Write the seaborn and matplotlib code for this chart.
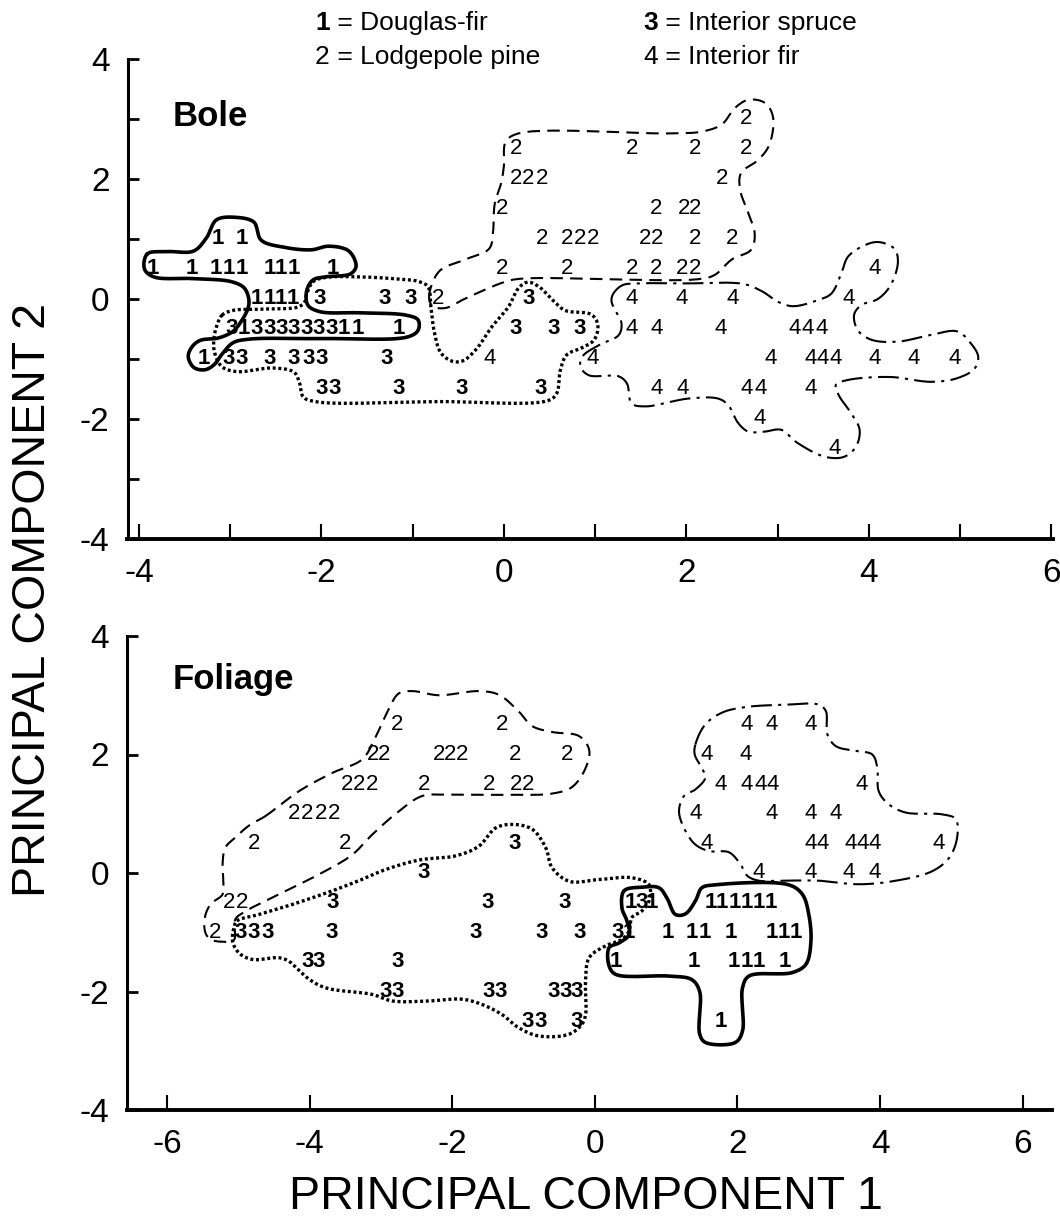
import numpy as np
import matplotlib
matplotlib.use("Agg")
import matplotlib.pyplot as plt
import seaborn as sns

sns.set_style("ticks")
plt.rcParams["font.family"] = ["Liberation Sans", "DejaVu Sans"]
plt.rcParams.update({"text.color": "black", "axes.edgecolor": "black",
                     "axes.labelcolor": "black", "xtick.color": "black",
                     "ytick.color": "black"})

# ---------------------------------------------------------------- Bole scores
BOLE_DF_X = [-3.85, -3.42, -3.16, -3.02, -2.87, -2.57, -2.44, -2.30, -1.87,
             -3.14, -2.87,
             -2.71, -2.57, -2.44, -2.31,
             -2.85, -1.75, -1.60, -1.15,
             -3.29]
BOLE_DF_Y = [0.5, 0.5, 0.5, 0.5, 0.5, 0.5, 0.5, 0.5, 0.5,
             1.0, 1.0,
             0.0, 0.0, 0.0, 0.0,
             -0.5, -0.5, -0.5, -0.5,
             -1.0]

BOLE_LP_X = [2.66,
             0.13, 1.40, 2.10, 2.66,
             0.13, 0.27, 0.42, 2.39,
             -0.02, 1.67, 1.97, 2.10,
             0.42, 0.69, 0.84, 0.98, 1.55, 1.68, 2.10, 2.50,
             -0.02, 0.69, 1.40, 1.67, 1.95, 2.10,
             -0.72]
BOLE_LP_Y = [3.0,
             2.5, 2.5, 2.5, 2.5,
             2.0, 2.0, 2.0, 2.0,
             1.5, 1.5, 1.5, 1.5,
             1.0, 1.0, 1.0, 1.0, 1.0, 1.0, 1.0, 1.0,
             0.5, 0.5, 0.5, 0.5, 0.5, 0.5,
             0.0]

BOLE_IS_X = [-2.02, -1.31, -1.02, 0.27,
             -2.98, -2.71, -2.57, -2.44, -2.30, -2.16, -2.03, -1.89, 0.13, 0.55, 0.83,
             -3.02, -2.87, -2.57, -2.30, -2.14, -2.00, -1.28,
             -2.00, -1.86, -1.15, -0.46, 0.40]
BOLE_IS_Y = [0.0, 0.0, 0.0, 0.0,
             -0.5, -0.5, -0.5, -0.5, -0.5, -0.5, -0.5, -0.5, -0.5, -0.5, -0.5,
             -1.0, -1.0, -1.0, -1.0, -1.0, -1.0, -1.0,
             -1.5, -1.5, -1.5, -1.5, -1.5]

BOLE_IF_X = [4.06,
             1.40, 1.95, 2.51, 3.78,
             1.40, 1.67, 2.38, 3.19, 3.33, 3.48,
             -0.15, 0.97, 2.93, 3.36, 3.50, 3.64, 4.06, 4.49, 4.94,
             1.67, 1.96, 2.66, 2.81, 3.36,
             2.80,
             3.63]
BOLE_IF_Y = [0.5,
             0.0, 0.0, 0.0, 0.0,
             -0.5, -0.5, -0.5, -0.5, -0.5, -0.5,
             -1.0, -1.0, -1.0, -1.0, -1.0, -1.0, -1.0, -1.0, -1.0,
             -1.5, -1.5, -1.5, -1.5, -1.5,
             -2.0,
             -2.5]

# ------------------------------------------------------------- Foliage scores
FOL_DF_X = [0.50, 0.80, 1.63, 1.78, 1.96, 2.13, 2.30, 2.47,
            0.48, 1.02, 1.36, 1.54, 1.91, 2.48, 2.65, 2.82,
            0.29, 1.39, 1.95, 2.13, 2.30, 2.66,
            1.77]
FOL_DF_Y = [-0.5, -0.5, -0.5, -0.5, -0.5, -0.5, -0.5, -0.5,
            -1.0, -1.0, -1.0, -1.0, -1.0, -1.0, -1.0, -1.0,
            -1.5, -1.5, -1.5, -1.5, -1.5, -1.5,
            -2.5]

FOL_LP_X = [-2.78, -1.30,
            -3.11, -2.95, -2.19, -2.03, -1.86, -1.12, -0.39,
            -3.48, -3.31, -3.13, -2.40, -1.49, -1.11, -0.94,
            -4.22, -4.03, -3.84, -3.66,
            -4.78, -3.50,
            -5.13, -4.94,
            -5.33]
FOL_LP_Y = [2.5, 2.5,
            2.0, 2.0, 2.0, 2.0, 2.0, 2.0, 2.0,
            1.5, 1.5, 1.5, 1.5, 1.5, 1.5, 1.5,
            1.0, 1.0, 1.0, 1.0,
            0.5, 0.5,
            -0.5, -0.5,
            -1.0]

FOL_IS_X = [-1.12,
            -2.40,
            -3.67, -1.50, -0.42, 0.66,
            -4.96, -4.78, -4.59, -3.69, -1.67, -0.74, -0.22, 0.32,
            -4.03, -3.87, -2.76,
            -2.93, -2.76, -1.49, -1.32, -0.58, -0.41, -0.25,
            -0.94, -0.76, -0.25]
FOL_IS_Y = [0.5,
            0.0,
            -0.5, -0.5, -0.5, -0.5,
            -1.0, -1.0, -1.0, -1.0, -1.0, -1.0, -1.0, -1.0,
            -1.5, -1.5, -1.5,
            -2.0, -2.0, -2.0, -2.0, -2.0, -2.0, -2.0,
            -2.5, -2.5, -2.5]

FOL_IF_X = [2.13, 2.48, 3.02,
            1.57, 2.12,
            1.77, 2.13, 2.33, 2.50, 3.74,
            1.42, 2.48, 3.02, 3.38,
            1.57, 3.03, 3.20, 3.59, 3.76, 3.93, 4.82,
            2.30, 3.02, 3.56, 3.93]
FOL_IF_Y = [2.5, 2.5, 2.5,
            2.0, 2.0,
            1.5, 1.5, 1.5, 1.5, 1.5,
            1.0, 1.0, 1.0, 1.0,
            0.5, 0.5, 0.5, 0.5, 0.5, 0.5, 0.5,
            0.0, 0.0, 0.0, 0.0]

# ------------------------------------------------- hand-drawn group outlines
BOLE_DF_HULL = [(-3.91, 0.75), (-3.69, 0.79), (-3.40, 0.80), (-3.26, 1.02), (-3.15, 1.32),
                (-2.93, 1.36), (-2.74, 1.28), (-2.66, 0.98), (-2.40, 0.86), (-2.11, 0.82),
                (-1.92, 0.88), (-1.70, 0.80), (-1.62, 0.55), (-1.68, 0.42), (-1.95, 0.37),
                (-2.09, 0.32), (-2.16, 0.15), (-2.15, -0.10), (-2.02, -0.21), (-1.58, -0.23),
                (-1.07, -0.27), (-0.94, -0.35), (-0.94, -0.52), (-1.05, -0.63), (-1.95, -0.66),
                (-2.80, -0.67), (-2.97, -0.73), (-3.08, -0.90), (-3.18, -1.10), (-3.28, -1.18),
                (-3.40, -1.14), (-3.46, -0.96), (-3.42, -0.80), (-3.33, -0.69), (-3.13, -0.65),
                (-2.97, -0.54), (-2.87, -0.35), (-2.80, -0.13), (-2.80, 0.03), (-2.85, 0.19),
                (-2.99, 0.29), (-3.40, 0.34), (-3.84, 0.37), (-3.94, 0.50)]
BOLE_LP_HULL = [(-0.82, 0.03), (-0.71, 0.46), (-0.42, 0.66), (-0.16, 0.84), (-0.12, 1.10),
                (-0.10, 1.59), (-0.03, 1.93), (0.00, 2.21), (0.02, 2.62), (0.16, 2.76),
                (1.84, 2.76), (2.17, 2.79), (2.39, 2.91), (2.53, 3.18), (2.68, 3.32),
                (2.86, 3.27), (2.95, 3.04), (2.91, 2.57), (2.79, 2.32), (2.60, 2.10),
                (2.59, 1.82), (2.68, 1.43), (2.75, 1.09), (2.71, 0.82), (2.50, 0.66),
                (2.31, 0.40), (2.13, 0.33), (0.20, 0.34), (0.02, 0.29), (-0.42, 0.01),
                (-0.64, -0.15), (-0.78, -0.12)]
BOLE_IS_HULL = [(-3.09, -0.27), (-2.97, -0.19), (-2.67, -0.17), (-2.25, -0.13), (-2.18, -0.04),
                (-2.16, 0.09), (-2.09, 0.29), (-1.95, 0.36), (-1.62, 0.37), (-1.22, 0.34),
                (-0.93, 0.29), (-0.83, 0.20), (-0.80, -0.13), (-0.76, -0.57), (-0.69, -0.90),
                (-0.56, -1.04), (-0.45, -1.03), (-0.31, -0.85), (-0.13, -0.46), (0.05, -0.13),
                (0.16, 0.18), (0.26, 0.28), (0.38, 0.21), (0.55, -0.04), (0.67, -0.19),
                (0.96, -0.26), (1.03, -0.43), (0.99, -0.68), (0.86, -0.81), (0.69, -0.93),
                (0.62, -1.18), (0.58, -1.57), (0.49, -1.69), (-0.71, -1.71), (-2.07, -1.71),
                (-2.20, -1.63), (-2.24, -1.40), (-2.30, -1.22), (-2.53, -1.15), (-2.93, -1.21),
                (-3.09, -1.13), (-3.17, -0.90), (-3.18, -0.68), (-3.15, -0.46)]
BOLE_IF_HULL = [(1.20, 0.09), (1.30, 0.23), (1.48, 0.26), (2.02, 0.26), (2.50, 0.27),
                (2.66, 0.24), (2.84, 0.12), (3.01, -0.05), (3.17, -0.12), (3.44, -0.02),
                (3.59, 0.09), (3.70, 0.43), (3.77, 0.70), (3.92, 0.87), (4.10, 0.95),
                (4.28, 0.84), (4.32, 0.62), (4.24, 0.23), (4.10, 0.00), (3.92, -0.10),
                (3.84, -0.26), (3.88, -0.52), (4.03, -0.68), (4.32, -0.71), (4.68, -0.60),
                (4.97, -0.54), (5.12, -0.74), (5.20, -0.96), (5.16, -1.16), (4.97, -1.32),
                (4.68, -1.38), (4.24, -1.30), (3.77, -1.35), (3.64, -1.43), (3.67, -1.60),
                (3.81, -1.91), (3.90, -2.18), (3.86, -2.46), (3.73, -2.63), (3.52, -2.63),
                (3.22, -2.40), (3.04, -2.18), (2.86, -2.21), (2.68, -2.21), (2.57, -2.07),
                (2.46, -1.77), (2.35, -1.66), (2.02, -1.66), (1.55, -1.79), (1.40, -1.74),
                (1.35, -1.41), (1.26, -1.29), (0.93, -1.27), (0.84, -1.13), (0.86, -0.96),
                (1.04, -0.77), (1.26, -0.60), (1.29, -0.41), (1.24, -0.24), (1.18, -0.04)]

FOL_DF_HULL = [(0.41, -0.30), (0.66, -0.24), (0.90, -0.25), (1.01, -0.42), (1.13, -0.70),
               (1.27, -0.69), (1.41, -0.47), (1.50, -0.25), (1.69, -0.20), (2.72, -0.20),
               (2.91, -0.36), (3.00, -0.70), (3.03, -1.15), (2.96, -1.54), (2.77, -1.68),
               (2.16, -1.74), (2.07, -1.94), (2.07, -2.67), (1.97, -2.86), (1.55, -2.86),
               (1.47, -2.72), (1.47, -2.00), (1.36, -1.80), (1.04, -1.74), (0.29, -1.71),
               (0.20, -1.57), (0.20, -1.26), (0.34, -1.18), (0.48, -1.04), (0.45, -0.81),
               (0.38, -0.59)]
FOL_LP_HULL = [(-4.62, 0.96), (-4.15, 1.38), (-3.68, 1.69), (-3.26, 1.92), (-3.08, 2.28),
               (-2.94, 2.64), (-2.75, 3.03), (-2.56, 3.07), (-2.19, 3.00), (-1.63, 3.07),
               (-1.35, 3.01), (-1.07, 2.73), (-0.88, 2.48), (-0.60, 2.38), (-0.22, 2.31),
               (-0.08, 2.08), (-0.13, 1.77), (-0.32, 1.45), (-0.60, 1.34), (-1.16, 1.32),
               (-2.05, 1.32), (-2.42, 1.30), (-2.75, 1.04), (-3.12, 0.65), (-3.40, 0.31),
               (-3.80, 0.02), (-4.38, -0.33), (-4.89, -0.64), (-5.04, -0.78), (-5.06, -1.13),
               (-5.22, -1.16), (-5.39, -1.12), (-5.46, -1.01), (-5.47, -0.76), (-5.39, -0.53),
               (-5.22, -0.36), (-5.21, -0.14), (-5.22, 0.15), (-5.18, 0.43), (-5.04, 0.60),
               (-4.85, 0.80)]
FOL_IS_HULL = [(-5.02, -0.81), (-4.71, -0.70), (-4.24, -0.53), (-3.68, -0.30), (-3.31, -0.13),
               (-2.93, 0.06), (-2.46, 0.22), (-1.95, 0.29), (-1.63, 0.45), (-1.39, 0.76),
               (-1.16, 0.82), (-0.88, 0.74), (-0.69, 0.43), (-0.60, 0.09), (-0.36, -0.14),
               (0.06, -0.11), (0.52, -0.08), (0.76, -0.20), (0.76, -0.47), (0.66, -0.64),
               (0.52, -0.75), (0.48, -0.98), (0.38, -1.12), (0.15, -1.23), (-0.08, -1.43),
               (-0.13, -1.82), (-0.13, -2.39), (-0.18, -2.55), (-0.36, -2.72), (-0.79, -2.75),
               (-1.07, -2.61), (-1.30, -2.39), (-1.58, -2.22), (-1.86, -2.13), (-2.33, -2.16),
               (-2.84, -2.16), (-3.12, -2.05), (-3.77, -1.94), (-4.01, -1.79), (-4.29, -1.49),
               (-4.43, -1.43), (-4.80, -1.46), (-4.99, -1.35), (-5.08, -1.15), (-5.06, -0.92)]
FOL_IF_HULL = [(1.41, 2.17), (1.55, 2.51), (1.79, 2.71), (2.11, 2.80), (2.67, 2.84),
               (3.14, 2.84), (3.24, 2.73), (3.26, 2.34), (3.38, 2.14), (3.66, 2.06),
               (3.89, 2.00), (3.96, 1.78), (3.98, 1.38), (4.12, 1.16), (4.36, 1.02),
               (4.87, 0.99), (5.06, 0.91), (5.08, 0.60), (4.97, 0.26), (4.73, 0.03),
               (4.22, -0.13), (3.70, -0.19), (3.14, -0.13), (2.58, -0.13), (2.30, -0.13),
               (2.14, -0.05), (2.04, 0.15), (1.88, 0.35), (1.60, 0.37), (1.41, 0.48),
               (1.27, 0.71), (1.18, 1.04), (1.25, 1.30), (1.41, 1.41), (1.55, 1.61),
               (1.50, 1.77), (1.40, 2.00)]

SPECIES = ["Douglas-fir", "Lodgepole pine", "Interior spruce", "Interior fir"]
CODES = ["1", "2", "3", "4"]

# line style used for each species outline
OUTLINE_STYLE = {
    "1": dict(lw=2.6, linestyle="-", solid_capstyle="round", solid_joinstyle="round"),
    "2": dict(lw=1.5, linestyle=(0, (6, 3.5))),
    "3": dict(lw=2.4, linestyle=(0, (0.9, 0.8))),
    "4": dict(lw=1.5, linestyle=(0, (10, 3, 1.5, 3))),
}


def smooth_outline(points, yscale, n=14):
    """Closed centripetal Catmull-Rom curve through the outline vertices."""
    p = np.asarray(points, float).copy()
    p[:, 1] *= yscale
    m = len(p)
    segs = []
    for i in range(m):
        p0, p1, p2, p3 = p[i - 1], p[i], p[(i + 1) % m], p[(i + 2) % m]
        t0 = 0.0
        t1 = t0 + max(np.linalg.norm(p1 - p0), 1e-6) ** 0.5
        t2 = t1 + max(np.linalg.norm(p2 - p1), 1e-6) ** 0.5
        t3 = t2 + max(np.linalg.norm(p3 - p2), 1e-6) ** 0.5
        t = np.linspace(t1, t2, n, endpoint=False)[:, None]
        a1 = (t1 - t) / (t1 - t0) * p0 + (t - t0) / (t1 - t0) * p1
        a2 = (t2 - t) / (t2 - t1) * p1 + (t - t1) / (t2 - t1) * p2
        a3 = (t3 - t) / (t3 - t2) * p2 + (t - t2) / (t3 - t2) * p3
        b1 = (t2 - t) / (t2 - t0) * a1 + (t - t0) / (t2 - t0) * a2
        b2 = (t3 - t) / (t3 - t1) * a2 + (t - t1) / (t3 - t1) * a3
        segs.append((t2 - t) / (t2 - t1) * b1 + (t - t1) / (t2 - t1) * b2)
    c = np.vstack(segs + [segs[0][:1]])
    c[:, 1] /= yscale
    return c[:, 0], c[:, 1]


def draw_panel(ax, groups, hulls, yscale):
    for code, hull in zip(CODES, hulls):
        hx, hy = smooth_outline(hull, yscale)
        ax.plot(hx, hy, color="black", zorder=2, **OUTLINE_STYLE[code])
    for code, (xs, ys) in zip(CODES, groups):
        weight = "bold" if code in ("1", "3") else "normal"
        for x, y in zip(xs, ys):
            ax.text(x, y, code, ha="center", va="center", fontsize=16,
                    fontweight=weight, color="black", zorder=3)


fig = plt.figure(figsize=(10.6, 12.23), dpi=100)
W, H = 1060.0, 1223.0
ax1 = fig.add_axes([127.5 / W, 1 - 539 / H, (1053 - 127.5) / W, 480 / H])
ax2 = fig.add_axes([127 / W, 1 - 1110 / H, (1052 - 127) / W, 474 / H])

draw_panel(ax1,
           [(BOLE_DF_X, BOLE_DF_Y), (BOLE_LP_X, BOLE_LP_Y),
            (BOLE_IS_X, BOLE_IS_Y), (BOLE_IF_X, BOLE_IF_Y)],
           [BOLE_DF_HULL, BOLE_LP_HULL, BOLE_IS_HULL, BOLE_IF_HULL],
           yscale=60 / 91.2)
draw_panel(ax2,
           [(FOL_DF_X, FOL_DF_Y), (FOL_LP_X, FOL_LP_Y),
            (FOL_IS_X, FOL_IS_Y), (FOL_IF_X, FOL_IF_Y)],
           [FOL_DF_HULL, FOL_LP_HULL, FOL_IS_HULL, FOL_IF_HULL],
           yscale=59.25 / 71.33)

# axes, ticks and spines
ax1.set_xlim(-4.126, 6.02)
ax1.set_ylim(-4, 4)
ax2.set_xlim(-6.56, 6.41)
ax2.set_ylim(-4, 4)

top_x = np.arange(-4, 7)
top_y = np.arange(-4, 5)
ax1.set_xticks(top_x, labels=[str(v) if v % 2 == 0 else "" for v in top_x])
ax1.set_yticks(top_y, labels=[str(v) if v % 2 == 0 else "" for v in top_y])
ax2.set_xticks(np.arange(-6, 7, 2), labels=[str(v) for v in np.arange(-6, 7, 2)])
ax2.set_yticks(np.arange(-4, 5, 2), labels=[str(v) for v in np.arange(-4, 5, 2)])

for ax in (ax1, ax2):
    sns.despine(ax=ax)
    ax.set_facecolor("white")
    ax.grid(False)
    ax.spines["left"].set_linewidth(2.2)
    ax.spines["bottom"].set_linewidth(2.8)
    ax.tick_params(axis="x", direction="in", length=11, width=1.5, pad=14,
                   labelsize=24, colors="black")
    ax.tick_params(axis="y", direction="in", length=8, width=2.0, pad=13,
                   labelsize=24, colors="black")

# panel titles
ax1.text(173 / W, 1 - 117 / H, "Bole", transform=fig.transFigure,
         fontsize=25, fontweight="bold", ha="left", va="center", color="black")
ax2.text(173 / W, 1 - 680 / H, "Foliage", transform=fig.transFigure,
         fontsize=25, fontweight="bold", ha="left", va="center", color="black")

# key to the species codes
key_pos = [(315, 23), (315, 57), (643, 23), (643, 57)]
for code, name, (kx, ky) in zip(CODES, SPECIES, key_pos):
    weight = "bold" if code in ("1", "3") else "normal"
    t = fig.text(kx / W, 1 - ky / H, code, fontsize=19, fontweight=weight,
                 ha="left", va="center", color="black")
    ax1.annotate(" = " + name, xy=(1, 0.5), xycoords=t, fontsize=19,
                 ha="left", va="center", annotation_clip=False, color="black")

# shared axis titles
fig.text(586 / W, 1 - 1197 / H, "PRINCIPAL COMPONENT 1", fontsize=33.5,
         ha="center", va="center", color="black")
fig.text(33 / W, 1 - 600 / H, "PRINCIPAL COMPONENT 2", fontsize=33.5,
         rotation=90, ha="center", va="center", color="black")

fig.savefig("out.png", dpi=100, facecolor="white")
